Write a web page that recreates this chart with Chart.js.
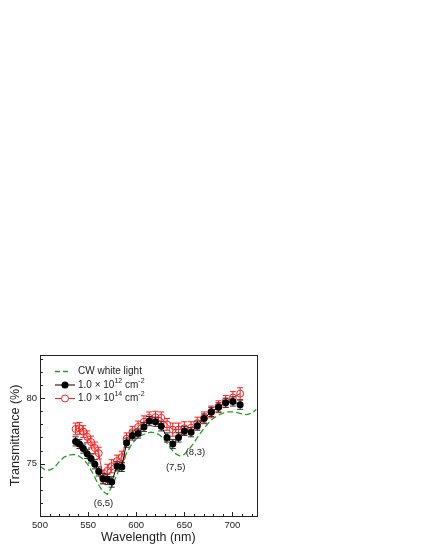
<!DOCTYPE html>
<html>
<head>
<meta charset="utf-8">
<script src="https://cdn.jsdelivr.net/npm/chart.js@4.4.1/dist/chart.umd.min.js"></script>
<style>
  html, body { margin: 0; padding: 0; background: #fff; }
  #wrap { width: 425px; height: 550px; }
</style>
</head>
<body>
<div id="wrap"><canvas id="myChart"></canvas></div>
<script>

// CW white light transmittance (dashed green)
const cwWavelength = [500, 505, 510, 515, 520, 525, 530, 535, 540, 545, 550, 555, 560, 565, 570, 575, 580, 585, 590, 595,
  600, 605, 610, 615, 620, 625, 630, 635, 640, 645, 650, 655, 660, 665, 670, 675, 680, 685, 690, 695,
  700, 705, 710, 715, 720, 725];
const cwTransmittance = [74.8, 74.55, 74.5, 74.7, 75.15, 75.5, 75.65, 75.7, 75.6, 75.35, 74.9, 74.25, 73.5, 72.9, 72.65, 73.3, 74.15, 75.0, 75.8, 76.45,
  76.9, 77.15, 77.3, 77.4, 77.35, 77.15, 76.75, 76.25, 75.8, 75.6, 75.7, 76.1, 76.6, 77.15, 77.65, 78.1, 78.45, 78.7, 78.85, 78.95,
  78.95, 78.9, 78.8, 78.75, 78.85, 79.15];

// pump fluence series, same wavelengths
const plWavelength = [537, 541, 545, 549, 553, 557, 561, 565.5, 570, 574.5, 580, 585, 590, 596, 602, 608, 613.5, 620, 626, 632,
  638, 644, 650, 657, 663.5, 670.5, 678, 685.5, 693, 700.5, 708];
const fluence12 = [76.7, 76.5, 76.15, 75.75, 75.4, 74.95, 74.4, 73.85, 73.8, 73.6, 74.8, 74.75, 76.6, 77.15, 77.3, 77.8, 78.25, 78.2, 77.85, 77.0,
  76.5, 77.0, 77.5, 77.4, 77.9, 78.45, 78.95, 79.3, 79.65, 79.75, 79.5];
const fluence12Err = [0.35, 0.35, 0.35, 0.35, 0.35, 0.35, 0.35, 0.4, 0.4, 0.4, 0.35, 0.35, 0.35, 0.35, 0.35, 0.35, 0.35, 0.35, 0.35, 0.35,
  0.35, 0.35, 0.35, 0.35, 0.35, 0.35, 0.35, 0.35, 0.35, 0.35, 0.35];
const fluence14 = [77.65, 77.7, 77.45, 77.05, 76.65, 76.2, 75.8, 74.0, 74.45, 74.8, 75.2, 75.5, 76.9, 77.4, 77.8, 78.2, 78.5, 78.55, 78.5, 78.0,
  77.6, 77.6, 77.7, 77.75, 78.1, 78.5, 78.95, 79.35, 79.75, 80.05, 80.35];
const fluence14Err = [0.45, 0.45, 0.45, 0.45, 0.45, 0.45, 0.45, 0.5, 0.5, 0.5, 0.45, 0.45, 0.45, 0.45, 0.45, 0.45, 0.45, 0.45, 0.45, 0.45,
  0.5, 0.5, 0.5, 0.45, 0.45, 0.45, 0.45, 0.45, 0.45, 0.45, 0.45];

const xTickLabels = [500, 550, 600, 650, 700];
const yTickLabels = [75, 80];

const peakLabels = ['(6,5)', '(7,5)', '(8,3)'];
const peakX = [566, 641, 661.5];
const peakY = [72.0, 74.75, 75.85];

const FONT = "'Liberation Sans', Arial, sans-serif";
const GREEN = '#1f9e1f';
const RED = '#ff1e1e';
const INK = '#222';

const toPoints = (xs, ys) => xs.map((x, i) => ({ x: x, y: ys[i] }));

// vertical error bars, drawn under each dataset's markers
const errorBars = {
  id: 'errorBars',
  beforeDatasetDraw(chart, args) {
    const ds = chart.data.datasets[args.index];
    if (!ds.errors) return;
    const { ctx } = chart;
    const y = chart.scales.y;
    ctx.save();
    ctx.strokeStyle = ds.errorColor;
    ctx.lineWidth = 1;
    ctx.beginPath();
    args.meta.data.forEach((pt, i) => {
      const v = ds.data[i].y, e = ds.errors[i];
      const top = y.getPixelForValue(v + e), bot = y.getPixelForValue(v - e);
      ctx.moveTo(pt.x, top); ctx.lineTo(pt.x, bot);
      ctx.moveTo(pt.x - 3, top); ctx.lineTo(pt.x + 3, top);
      ctx.moveTo(pt.x - 3, bot); ctx.lineTo(pt.x + 3, bot);
    });
    ctx.stroke();
    ctx.restore();
  }
};

// box frame + inward ticks on bottom and left
const frameTicks = {
  id: 'frameTicks',
  afterDatasetsDraw(chart) {
    const { ctx, chartArea: a, scales: { x, y } } = chart;
    const l = Math.round(a.left) + 0.5, r = Math.round(a.right) + 0.5;
    const t = Math.round(a.top) + 0.5, b = Math.round(a.bottom) + 0.5;
    ctx.save();
    ctx.strokeStyle = INK;
    ctx.lineWidth = 1;
    ctx.strokeRect(l, t, r - l, b - t);
    ctx.beginPath();
    x.ticks.forEach(tk => {
      const px = Math.round(x.getPixelForValue(tk.value)) + 0.5;
      const len = xTickLabels.includes(tk.value) ? 4.5 : 2.5;
      ctx.moveTo(px, b); ctx.lineTo(px, b - len);
    });
    y.ticks.forEach(tk => {
      const py = Math.round(y.getPixelForValue(tk.value)) + 0.5;
      const len = yTickLabels.includes(tk.value) ? 4.5 : 2.5;
      ctx.moveTo(l, py); ctx.lineTo(l + len, py);
    });
    ctx.stroke();
    ctx.restore();
  }
};

// legend inside the plot + peak labels
const inlineLegend = {
  id: 'inlineLegend',
  afterDraw(chart) {
    const { ctx, chartArea: a, scales: { x, y } } = chart;
    ctx.save();
    ctx.fillStyle = INK;
    ctx.textBaseline = 'middle';

    ctx.font = '9.5px ' + FONT;
    ctx.textAlign = 'center';
    peakLabels.forEach((s, i) => {
      ctx.fillText(s, x.getPixelForValue(peakX[i]), y.getPixelForValue(peakY[i]));
    });

    const x0 = a.left + 15, x1 = a.left + 35, tx = a.left + 38;
    const rows = [a.top + 16.5, a.top + 30, a.top + 43.5];

    // CW white light
    ctx.strokeStyle = GREEN;
    ctx.lineWidth = 1.3;
    ctx.setLineDash([5, 3]);
    ctx.beginPath();
    ctx.moveTo(x0, rows[0]); ctx.lineTo(x0 + 13, rows[0]);
    ctx.stroke();
    ctx.setLineDash([]);

    // 1e12
    ctx.strokeStyle = '#000';
    ctx.lineWidth = 1;
    ctx.beginPath();
    ctx.moveTo(x0, rows[1]); ctx.lineTo(x1, rows[1]);
    ctx.stroke();
    ctx.fillStyle = '#000';
    ctx.beginPath();
    ctx.arc((x0 + x1) / 2, rows[1], 3.5, 0, Math.PI * 2);
    ctx.fill();

    // 1e14
    ctx.strokeStyle = RED;
    ctx.beginPath();
    ctx.moveTo(x0, rows[2]); ctx.lineTo((x0 + x1) / 2 - 3.5, rows[2]);
    ctx.moveTo((x0 + x1) / 2 + 3.5, rows[2]); ctx.lineTo(x1, rows[2]);
    ctx.stroke();
    ctx.beginPath();
    ctx.arc((x0 + x1) / 2, rows[2], 3.5, 0, Math.PI * 2);
    ctx.stroke();

    ctx.fillStyle = INK;
    ctx.textAlign = 'left';
    ctx.font = '10px ' + FONT;
    ctx.fillText('CW white light', tx, rows[0]);

    const withSup = (parts, yy) => {
      let cx = tx;
      parts.forEach((p, i) => {
        const sup = i % 2 === 1;
        ctx.font = (sup ? '7px ' : '10px ') + FONT;
        ctx.fillText(p, cx, sup ? yy - 4 : yy);
        cx += ctx.measureText(p).width;
      });
    };
    withSup(['1.0 \u00d7 10', '12', ' cm', '-2'], rows[1]);
    withSup(['1.0 \u00d7 10', '14', ' cm', '-2'], rows[2]);
    ctx.restore();
  }
};

const ctx = document.getElementById('myChart');

const myChart = new Chart(ctx, {
  type: 'line',
  data: {
    datasets: [
      {
        label: 'CW white light',
        data: toPoints(cwWavelength, cwTransmittance),
        borderColor: GREEN,
        borderWidth: 1.3,
        borderDash: [6, 3],
        pointRadius: 0,
        tension: 0,
        order: 2
      },
      {
        label: '1.0 x 10^14 cm^-2',
        data: toPoints(plWavelength, fluence14),
        errors: fluence14Err,
        errorColor: RED,
        borderColor: RED,
        borderWidth: 1,
        pointRadius: 3.5,
        pointBorderWidth: 1,
        pointBorderColor: RED,
        pointBackgroundColor: 'rgba(255,255,255,0)',
        tension: 0,
        order: 1
      },
      {
        label: '1.0 x 10^12 cm^-2',
        data: toPoints(plWavelength, fluence12),
        errors: fluence12Err,
        errorColor: '#333',
        borderColor: '#000',
        borderWidth: 1,
        pointRadius: 3.5,
        pointBorderWidth: 0,
        pointBackgroundColor: '#000',
        tension: 0,
        order: 0
      }
    ]
  },
  options: {
    responsive: true,
    maintainAspectRatio: false,
    animation: false,
    devicePixelRatio: 1,
    layout: { padding: { top: 355, right: 168.5, left: 0, bottom: 0 } },
    plugins: {
      legend: false,
      tooltip: { enabled: false }
    },
    scales: {
      x: {
        type: 'linear',
        min: 500,
        max: 725,
        grid: { display: false, drawTicks: false },
        border: { display: false },
        ticks: {
          stepSize: 10,
          includeBounds: false,
          autoSkip: false,
          maxRotation: 0,
          padding: 4,
          color: INK,
          font: { family: FONT, size: 9.5 },
          callback: v => xTickLabels.includes(v) ? String(v) : ''
        },
        title: {
          display: true,
          text: 'Wavelength (nm)',
          color: INK,
          font: { family: FONT, size: 12.5 },
          padding: { top: 0, bottom: 4.5 }
        },
        afterFit: scale => { scale.height = 34; }
      },
      y: {
        min: 71,
        max: 83.3,
        grid: { display: false, drawTicks: false },
        border: { display: false },
        ticks: {
          stepSize: 1,
          includeBounds: false,
          autoSkip: false,
          padding: 3,
          color: INK,
          font: { family: FONT, size: 9.5 },
          callback: v => yTickLabels.includes(v) ? String(v) : ''
        },
        title: {
          display: true,
          text: 'Transmittance (%)',
          color: INK,
          font: { family: FONT, size: 12.5 },
          padding: { top: 8, bottom: 0 }
        },
        afterFit: scale => { scale.width = 40; }
      }
    }
  },
  plugins: [errorBars, frameTicks, inlineLegend]
});
</script>
</body>
</html>
